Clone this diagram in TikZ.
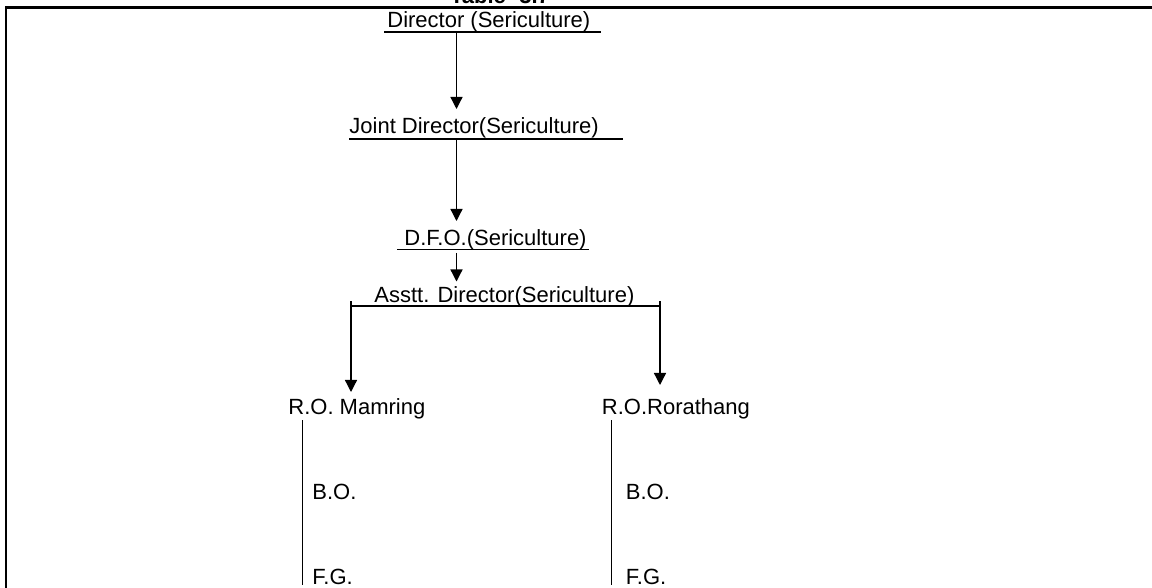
\documentclass[tikz,border=0pt]{standalone}
\usepackage{fontspec}
\setmainfont{Liberation Sans}
\usetikzlibrary{arrows.meta}
\begin{document}
\begin{tikzpicture}[x=0.5pt,y=-0.5pt,
  lbl/.style={inner sep=0pt,anchor=base west,font=\fontsize{11}{13}\selectfont},
  ttl/.style={inner sep=0pt,anchor=base,font=\fontsize{11}{13}\selectfont\bfseries},
  thin/.style={line width=0.65pt},
  frame/.style={line width=1.2pt},
  arr/.style={thin,-{Triangle[length=6pt,width=6pt]}}]
\useasboundingbox (0,0) rectangle (1152,588);
\begin{scope}
\clip (0,0) rectangle (1152,588);
% title (cut off at the top)
\node[ttl] (title) at (500,4) {Table -3.7};
% frame
\draw[frame] (1152,7.5) -- (5.8,7.5) -- (5.8,588);
% text nodes
\node[lbl] (director) at (387,28) {Director (Sericulture)};
\node[lbl] (joint) at (349,134) {Joint Director(Sericulture)};
\node[lbl] (dfo) at (404,246) {D.F.O.(Sericulture)};
\node[lbl] (asst) at (374,302.5) {Asstt. Director(Sericulture)};
\node[lbl] (roM) at (288,415) {R.O. Mamring};
\node[lbl] (roR) at (601.5,415) {R.O.Rorathang};
\node[lbl] (boM) at (312,499) {B.O.};
\node[lbl] (fgM) at (312,584) {F.G.};
\node[lbl] (boR) at (625.5,499) {B.O.};
\node[lbl] (fgR) at (625.5,584) {F.G.};
% underlines
\draw[thin] (384,32) -- (601,32);
\draw[thin] (349,139) -- (623,139);
\draw[thin] (397,249.5) -- (588.5,249.5);
% connector coordinates
\coordinate (a1s) at (456.5,32);
\coordinate (a1e) at (456.5,109);
\coordinate (a2s) at (456.5,139);
\coordinate (a2e) at (456.5,221);
\coordinate (a3s) at (456.5,253);
\coordinate (a3e) at (456.5,281.5);
\coordinate (bl) at (351,306);
\coordinate (br) at (660,306);
\coordinate (blt) at (351,301.5);
\coordinate (brt) at (660,301.5);
\coordinate (ml) at (351,392);
\coordinate (mr) at (660,385);
\coordinate (vl1) at (302.5,420.5);
\coordinate (vl2) at (302.5,584.5);
\coordinate (vr1) at (611.5,420.5);
\coordinate (vr2) at (611.5,584.5);
% connectors
\draw[arr] (a1s) -- (a1e);
\draw[arr] (a2s) -- (a2e);
\draw[arr] (a3s) -- (a3e);
\draw[thin] (blt) -- (bl) -- (br) -- (brt);
\draw[arr] (bl) -- (ml);
\draw[arr] (br) -- (mr);
\draw[thin] (vl1) -- (vl2);
\draw[thin] (vr1) -- (vr2);
\end{scope}
\end{tikzpicture}
\end{document}
